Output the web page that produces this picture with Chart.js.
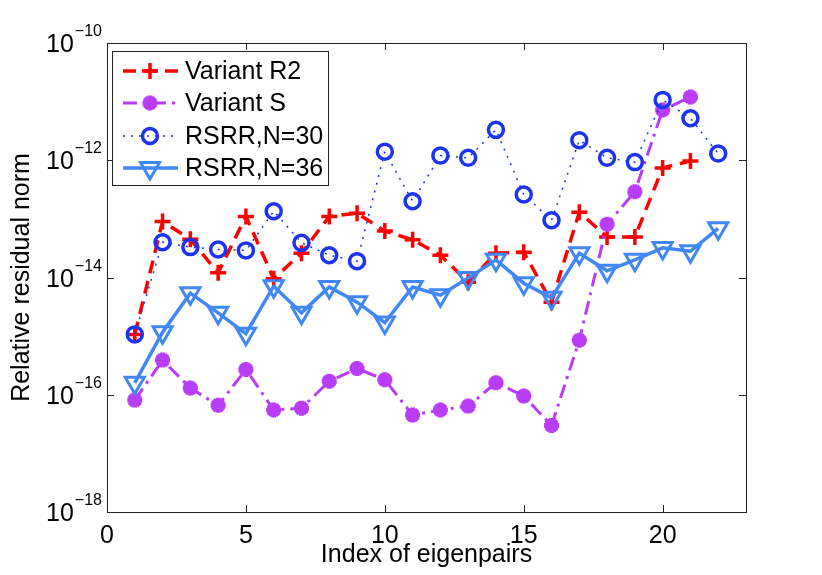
<!DOCTYPE html>
<html>
<head>
<meta charset="utf-8">
<script src="https://cdn.jsdelivr.net/npm/chart.js@4"></script>
<style>
  html, body { margin: 0; padding: 0; background: #fff; }
  canvas { display: block; }
</style>
</head>
<body>
<canvas id="resChart" width="822" height="575"></canvas>
<script>
const idx = [1, 2, 3, 4, 5, 6, 7, 8, 9, 10, 11, 12, 13, 14, 15, 16, 17, 18, 19, 20, 21, 22];
const xTicks = [0, 5, 10, 15, 20];
const yExps = [-18, -16, -14, -12, -10];

const variantR2 = [1.07e-15, 9e-14, 4.5e-14, 1.2e-14, 1.1e-13, 9.5e-15, 2.6e-14, 1.1e-13, 1.25e-13, 6.2e-14,
  4.4e-14, 2.4e-14, 8.3e-15, 2.6e-14, 2.7e-14, 3.8e-15, 1.3e-13, 4.9e-14, 4.9e-14, 7.4e-13, 9.7e-13];
const variantS = [8.1e-17, 3.9e-16, 1.3e-16, 6.6e-17, 2.7e-16, 5.5e-17, 5.9e-17, 1.7e-16, 2.8e-16, 1.8e-16,
  4.5e-17, 5.5e-17, 6.4e-17, 1.6e-16, 9.5e-17, 3e-17, 8.5e-16, 8.1e-14, 2.9e-13, 7.2e-12, 1.2e-11];
const rsrr30 = [1.07e-15, 4e-14, 3.3e-14, 3e-14, 2.9e-14, 1.35e-13, 3.9e-14, 2.4e-14, 1.9e-14, 1.4e-12,
  2e-13, 1.2e-12, 1.1e-12, 3.3e-12, 2.6e-13, 9.5e-14, 2.2e-12, 1.1e-12, 9.3e-13, 1.07e-11, 5.2e-12, 1.3e-12];
const rsrr36 = [1.6e-16, 1.17e-15, 5.4e-15, 2.5e-15, 1.1e-15, 7.1e-15, 2.5e-15, 6.9e-15, 3.8e-15, 1.7e-15,
  6.9e-15, 5e-15, 9.8e-15, 2e-14, 8e-15, 4.5e-15, 2.6e-14, 1.3e-14, 2e-14, 3.2e-14, 2.8e-14, 6.9e-14];

const FONT = 'Liberation Sans, Arial, Helvetica, sans-serif';
const toPts = arr => arr.map((v, i) => ({ x: idx[i], y: v }));

const datasets = [
  {
    label: 'Variant R2', data: toPts(variantR2), order: 4,
    borderColor: '#ff0000', borderWidth: 3.5, borderDash: [13, 8],
    pointStyle: 'cross', pointRadius: 8, pointBorderWidth: 3.5,
    pointBorderColor: '#ff0000', pointBackgroundColor: 'rgba(0,0,0,0)'
  },
  {
    label: 'Variant S', data: toPts(variantS), order: 3,
    borderColor: '#b93cf6', borderWidth: 3, borderDash: [14, 6, 3, 6],
    pointStyle: 'star', pointRadius: 7.5, pointBorderWidth: 5,
    pointBorderColor: '#b93cf6', pointBackgroundColor: '#b93cf6'
  },
  {
    label: 'RSRR,N=30', data: toPts(rsrr30), order: 2,
    borderColor: '#1c34ee', borderWidth: 1.5, borderDash: [2, 6],
    pointStyle: 'circle', pointRadius: 7.5, pointBorderWidth: 3.5,
    pointBorderColor: '#1c34ee', pointBackgroundColor: 'rgba(0,0,0,0)'
  },
  {
    label: 'RSRR,N=36', data: toPts(rsrr36), order: 1,
    borderColor: '#4187f5', borderWidth: 3.5,
    pointStyle: 'triangle', pointRotation: 180, pointRadius: 11, pointBorderWidth: 3,
    pointBorderColor: '#4187f5', pointBackgroundColor: 'rgba(0,0,0,0)'
  }
];

// box round the plot with inward ticks on all four sides
const frame = {
  id: 'frame',
  beforeDatasetsDraw(chart) {
    const { ctx, chartArea: a, scales } = chart;
    ctx.save();
    ctx.strokeStyle = '#222';
    ctx.lineWidth = 1;
    ctx.strokeRect(a.left + 0.5, a.top + 0.5, a.right - a.left, a.bottom - a.top);
    ctx.beginPath();
    xTicks.forEach(t => {
      const px = Math.round(scales.x.getPixelForValue(t)) + 0.5;
      ctx.moveTo(px, a.bottom); ctx.lineTo(px, a.bottom - 7);
      ctx.moveTo(px, a.top); ctx.lineTo(px, a.top + 7);
    });
    yExps.forEach(e => {
      const py = Math.round(scales.y.getPixelForValue(Math.pow(10, e))) + 0.5;
      ctx.moveTo(a.left, py); ctx.lineTo(a.left + 7, py);
      ctx.moveTo(a.right, py); ctx.lineTo(a.right - 7, py);
    });
    ctx.stroke();
    ctx.restore();
  },
  afterDraw(chart) {
    const { ctx, chartArea: a, scales } = chart;
    ctx.save();
    // y tick labels as 10 with a raised exponent
    ctx.fillStyle = '#000';
    ctx.textBaseline = 'alphabetic';
    yExps.forEach(e => {
      const py = scales.y.getPixelForValue(Math.pow(10, e));
      const exp = '\u2212' + Math.abs(e);
      ctx.font = '16px ' + FONT;
      const ew = ctx.measureText(exp).width;
      const right = a.left - 5;
      ctx.textAlign = 'left';
      ctx.fillText(exp, right - ew, py - 7);
      ctx.font = '25px ' + FONT;
      ctx.textAlign = 'right';
      ctx.fillText('10', right - ew - 1, py + 9);
    });

    // legend
    const lx = 112, ly = 51, lw = 216, lh = 134;
    ctx.fillStyle = '#fff';
    ctx.fillRect(lx, ly, lw, lh);
    ctx.strokeStyle = '#222';
    ctx.lineWidth = 1;
    ctx.strokeRect(lx + 0.5, ly + 0.5, lw, lh);
    const rows = [71, 103, 136, 168];
    datasets.forEach((ds, i) => {
      const y = rows[i];
      ctx.save();
      ctx.strokeStyle = ds.borderColor;
      ctx.lineWidth = ds.borderWidth;
      ctx.setLineDash(ds.borderDash || []);
      ctx.beginPath();
      ctx.moveTo(123, y); ctx.lineTo(178, y);
      ctx.stroke();
      ctx.setLineDash([]);
      ctx.strokeStyle = ds.pointBorderColor;
      ctx.fillStyle = ds.pointBackgroundColor;
      ctx.lineWidth = ds.pointBorderWidth;
      if (Chart.helpers && Chart.helpers.drawPoint) {
        Chart.helpers.drawPoint(ctx, {
          pointStyle: ds.pointStyle, rotation: ds.pointRotation || 0,
          radius: ds.pointRadius, borderWidth: ds.pointBorderWidth
        }, 150, y);
      }
      ctx.restore();
      ctx.fillStyle = '#000';
      ctx.font = '25px ' + FONT;
      ctx.textAlign = 'left';
      ctx.textBaseline = 'middle';
      ctx.fillText(ds.label, 185, y + 1);
    });
    ctx.restore();
  }
};

new Chart(document.getElementById('resChart'), {
  type: 'line',
  data: { datasets: datasets },
  options: {
    responsive: false,
    animation: false,
    layout: { autoPadding: false, padding: { top: 43, right: 76, left: 0, bottom: 0 } },
    plugins: { legend: { display: false }, tooltip: { enabled: false } },
    scales: {
      x: {
        type: 'linear', min: 0, max: 23,
        afterBuildTicks: s => { s.ticks = xTicks.map(v => ({ value: v })); },
        afterFit: s => { s.height = 63; },
        grid: { display: false, drawTicks: false },
        border: { display: false },
        ticks: { color: '#000', padding: 9, font: { family: FONT, size: 25 } },
        title: {
          display: true, text: 'Index of eigenpairs', color: '#000',
          font: { family: FONT, size: 25 }, padding: { top: 0, bottom: 5 }
        }
      },
      y: {
        type: 'logarithmic', min: 1e-18, max: 1e-10,
        afterBuildTicks: s => { s.ticks = yExps.map(e => ({ value: Math.pow(10, e) })); },
        afterFit: s => { s.width = 107; },
        grid: { display: false, drawTicks: false },
        border: { display: false },
        ticks: { display: false },
        title: {
          display: true, text: 'Relative residual norm', color: '#000',
          font: { family: FONT, size: 25 }, padding: { top: 7, bottom: 0 }
        }
      }
    }
  },
  plugins: [frame]
});
</script>
</body>
</html>
